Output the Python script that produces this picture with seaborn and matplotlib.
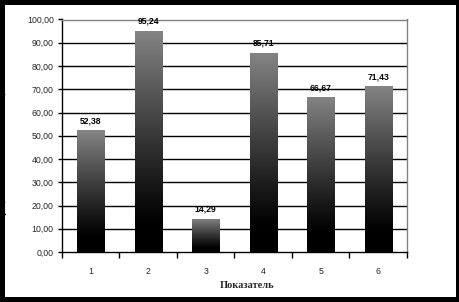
import numpy as np
import pandas as pd
import matplotlib
matplotlib.use("Agg")
import matplotlib.pyplot as plt
from matplotlib.patches import Rectangle
import seaborn as sns

categories = ["1", "2", "3", "4", "5", "6"]
values = [52.38, 95.24, 14.29, 85.71, 66.67, 71.43]
value_labels = ["52,38", "95,24", "14,29", "85,71", "66,67", "71,43"]
x_label = "Показатель"
y_label = "Процент выполнения показателя, %"

sns.set_theme(style="white")
plt.rcParams["font.family"] = ["Liberation Sans", "DejaVu Sans"]

W, H = 460, 302
fig = plt.figure(figsize=(W / 100, H / 100), dpi=100)
fig.patch.set_facecolor("black")
fig.patches.append(Rectangle((5 / W, 5 / H), 451 / W, 292 / H, transform=fig.transFigure,
                             facecolor="white", edgecolor="none", zorder=-5))

ax = fig.add_axes([62 / W, (H - 252) / H, 345 / W, 232.5 / H])
ax.set_zorder(2)
ax.set_facecolor("white")

df = pd.DataFrame({"cat": categories, "val": values})
sns.barplot(data=df, x="cat", y="val", color="#808080", width=0.47, saturation=1,
            edgecolor="none", ax=ax, zorder=3)

# gradient fill on each bar: gray at top, black at bottom
t = np.linspace(0, 1, 256)
lvl = np.clip((t - 0.12) / 0.88, 0, 1) ** 1.1 * 0.52
grad = np.dstack([lvl, lvl, lvl]).reshape(256, 1, 3)
for p in ax.patches:
    x0, y0 = p.get_x(), p.get_y()
    w, h = p.get_width(), p.get_height()
    im = ax.imshow(grad, extent=[x0, x0 + w, y0, y0 + h], aspect="auto",
                   interpolation="bilinear", origin="lower", zorder=4)
    im.set_clip_path(p)
ax.set_xlim(-0.5, 5.5)
ax.set_ylim(0, 100)

for i, (v, lab) in enumerate(zip(values, value_labels)):
    ax.annotate(lab, (i, v), xytext=(0, 3.5), textcoords="offset points",
                ha="center", va="bottom", fontsize=6.2, fontweight="bold", color="black", zorder=6)

# grid
ax.set_yticks(np.arange(0, 101, 10))
ax.set_yticklabels([f"{v:.2f}".replace(".", ",") for v in np.arange(0, 101, 10)], fontsize=6.3)
for yv in range(10, 100, 10):
    ax.axhline(yv, color="black", lw=1, zorder=1)

ax.set_xticks(range(6))
ax.set_xticklabels(categories, fontsize=6.3)
ax.set_xticks(np.arange(-0.5, 6, 1), minor=True)
ax.tick_params(axis="x", which="major", length=0, pad=11)
ax.tick_params(axis="x", which="minor", length=4, width=1, color="black", direction="out", bottom=True)
ax.tick_params(axis="y", length=3, width=1, color="black", direction="out", left=True, pad=3)

for s in ["left", "bottom"]:
    ax.spines[s].set_color("black")
    ax.spines[s].set_linewidth(1)
    ax.spines[s].set_visible(True)
for s in ["top", "right"]:
    ax.spines[s].set_color("#808080")
    ax.spines[s].set_linewidth(1)
    ax.spines[s].set_visible(True)

ax.set_xlabel("")
ax.set_ylabel("")
fig.text(247 / W, 1 - 286 / H, x_label, ha="center", va="center", fontsize=7.5,
         fontweight="bold", family=["Liberation Serif", "DejaVu Serif"])
fig.text(3.5 / W, 0.5, y_label, rotation=90, ha="center", va="center", fontsize=6,
         fontweight="bold", family=["Liberation Serif", "DejaVu Serif"], color="black")

fig.savefig("out.png", dpi=100, facecolor=fig.get_facecolor())
